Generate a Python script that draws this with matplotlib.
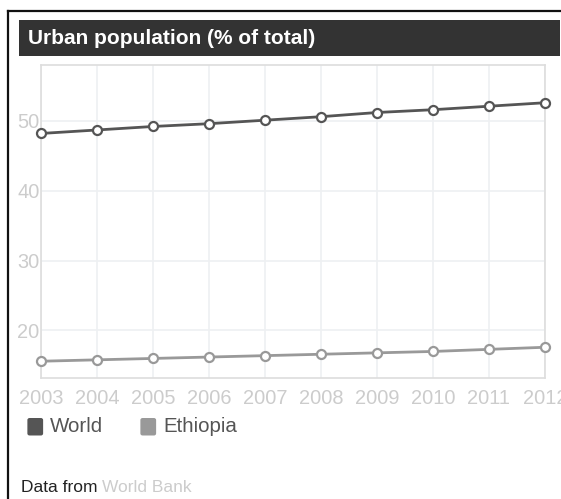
import matplotlib
matplotlib.use("Agg")
import matplotlib.pyplot as plt
from matplotlib.patches import Rectangle, FancyBboxPatch
from matplotlib.lines import Line2D

plt.rcParams['font.family'] = ['Liberation Sans', 'DejaVu Sans']

# data
years = [2003, 2004, 2005, 2006, 2007, 2008, 2009, 2010, 2011, 2012]
world = [48.2, 48.7, 49.2, 49.6, 50.1, 50.6, 51.2, 51.6, 52.1, 52.6]
ethiopia = [15.6, 15.8, 16.0, 16.2, 16.4, 16.6, 16.8, 17.0, 17.3, 17.6]
yticks = [20, 30, 40, 50]
series_names = ["World", "Ethiopia"]
series_colors = ["#555555", "#999999"]

W, H = 561, 499
fig = plt.figure(figsize=(W / 100, H / 100), dpi=100)

def fx(px):
    return px / W

def fy(py):
    return 1 - py / H

# outer frame (left and top edges only visible)
fig.add_artist(Line2D([fx(8), fx(8)], [fy(11), fy(510)], color="#111111", lw=1.6))
fig.add_artist(Line2D([fx(8), fx(570)], [fy(11), fy(11)], color="#111111", lw=1.6))

# title bar
fig.add_artist(Rectangle((fx(18.5), fy(55.5)), fx(560) - fx(18.5), fy(20) - fy(55.5),
                         facecolor="#333333", edgecolor="none"))
fig.text(fx(28), fy(38.5), "Urban population (% of total)", color="white",
         fontsize=15, fontweight="bold", va="center", ha="left")

# plot area
ax = fig.add_axes([fx(41), fy(378), fx(545) - fx(41), fy(65) - fy(378)])
ax.set_xlim(years[0], years[-1])
ax.set_ylim(13.2, 58.0)
ax.set_yticks(yticks)
ax.set_xticks(years)
ax.grid(True, color="#eef0f2", lw=1.2)
ax.set_axisbelow(True)
for s in ax.spines.values():
    s.set_color("#dddddd")
    s.set_linewidth(1.2)
ax.tick_params(length=0, labelcolor="#cccccc", labelsize=14.4)
ax.tick_params(axis="x", pad=8)
ax.tick_params(axis="y", pad=1)

for vals, col in zip([world, ethiopia], series_colors):
    ax.plot(years, vals, color=col, lw=2, marker="o", markersize=6.5,
            markerfacecolor="white", markeredgecolor=col, markeredgewidth=1.6,
            clip_on=False, zorder=3)

# legend
leg_x = [28, 141]
for x0, name, col in zip(leg_x, series_names, series_colors):
    fig.add_artist(FancyBboxPatch((fx(x0 + 0.5), fy(434.5)), fx(13.5), fy(419) - fy(434.5),
                                  boxstyle="round,pad=0.002,rounding_size=0.004",
                                  facecolor=col, edgecolor="none"))
    fig.text(fx(x0 + 22), fy(427), name, color="#555555", fontsize=14.8,
             va="center", ha="left")

# source line
t = fig.text(fx(21), fy(487), "Data from ", color="#222222", fontsize=12.5,
             va="center", ha="left")
fig.canvas.draw()
bb = t.get_window_extent()
fig.text(bb.x1 / W, fy(487), "World Bank", color="#cccccc", fontsize=12.5,
         va="center", ha="left")

fig.savefig("out.png", dpi=100)
